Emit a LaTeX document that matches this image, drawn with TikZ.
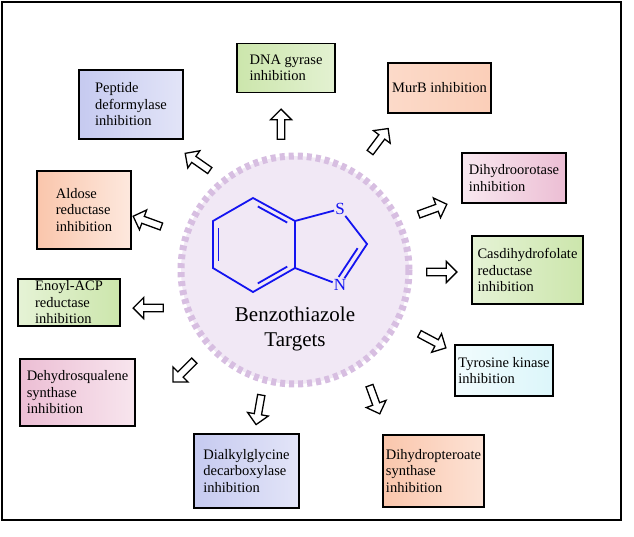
\documentclass[tikz,border=0pt]{standalone}
\usepackage{fontspec}
\setmainfont{Liberation Serif}
\usetikzlibrary{shapes.arrows,calc}
\definecolor{tgreen}{RGB}{204,230,172}
\definecolor{tpeach}{RGB}{250,198,172}
\definecolor{tblue}{RGB}{198,202,240}
\definecolor{tpink}{RGB}{236,190,212}
\definecolor{tcyan}{RGB}{220,246,250}
\definecolor{tlilac}{RGB}{215,190,225}
\definecolor{tmol}{RGB}{20,20,240}
\begin{document}
\begin{tikzpicture}[%
    x=1pt,y=-1pt,
    target/.style={%
      draw,
      line width=1.5pt,
      inner sep=0,
      align=left,
      font=\fontsize{14.5}{16.5}\selectfont},
    pointer/.style={%
      single arrow,
      draw,
      line width=1.3pt,
      fill=white,
      minimum height=30pt,
      minimum width=21pt,
      single arrow head extend=4pt,
      inner sep=1.5pt}
    ]
  \useasboundingbox (0,0) rectangle (634,536);
  \draw[line width=1.4pt] (2,2) rectangle (621,520);
  % central circle
  \fill[tlilac!35] (295,270) circle (114);
  \draw[tlilac, line width=7pt, dash pattern=on 5pt off 4pt] (295,270) circle (114);
  % molecule
  \coordinate (a1) at (253,198);
  \coordinate (a2) at (295,221);
  \coordinate (a3) at (295,268);
  \coordinate (a4) at (253,292);
  \coordinate (a5) at (213,268);
  \coordinate (a6) at (213,221);
  \coordinate (c2) at (367,244);
  \node[tmol, font=\fontsize{17}{17}\selectfont, inner sep=1pt] (s) at (340,209) {S};
  \node[tmol, font=\fontsize{17}{17}\selectfont, inner sep=1pt] (n) at (340,285) {N};
  \begin{scope}[tmol, line width=1.8pt]
    \draw (a1) -- (a2) -- (a3) -- (a4) -- (a5) -- (a6) -- cycle;
    \draw ($(a1)!0.15!(a2)+(-1.5,5)$) -- ($(a1)!0.85!(a2)+(-1.5,5)$);
    \draw ($(a3)!0.15!(a4)+(-1.5,-5)$) -- ($(a3)!0.85!(a4)+(-1.5,-5)$);
    \draw ($(a5)!0.15!(a6)+(5.5,0)$) -- ($(a5)!0.85!(a6)+(5.5,0)$);
    \draw (a2) -- (s) -- (c2) -- (n) -- (a3);
    \draw ($(c2)!0.2!(n)+(-4,-4)$) -- ($(c2)!0.9!(n)+(-4,-4)$);
  \end{scope}
  \node[font=\fontsize{21}{25}\selectfont, align=center] (title) at (295,329) {Benzothiazole\\Targets};
  % target boxes
  \node[target, left color=tgreen, right color=tgreen!55, minimum width=98pt, minimum height=49pt] (gyr) at (286,68) {DNA gyrase\\inhibition};
  \node[target, left color=tpeach!65, right color=tpeach!85, minimum width=103pt, minimum height=50pt] (murb) at (439.5,88) {MurB inhibition};
  \node[target, left color=tblue, right color=tblue!50, minimum width=104pt, minimum height=69pt] (pdf) at (131,104.5) {Peptide\\deformylase\\ inhibition};
  \node[target, left color=tpink!35, right color=tpink, minimum width=104pt, minimum height=50pt] (dho) at (514,178) {Dihydroorotase\\inhibition};
  \node[target, left color=tpeach, right color=tpeach!40, minimum width=94pt, minimum height=78pt] (ald) at (84,210) {Aldose\\reductase\\inhibition};
  \node[target, left color=tgreen!50, right color=tgreen, minimum width=111pt, minimum height=68pt] (cdf) at (527.5,270) {Casdihydrofolate\\reductase\\inhibition};
  \node[target, left color=tgreen!50, right color=tgreen, minimum width=102pt, minimum height=47pt] (eacp) at (69,302.5) {Enoyl-ACP\\reductase\\inhibition};
  \node[target, left color=tcyan!40, right color=tcyan, minimum width=98pt, minimum height=51pt] (tyr) at (504,370.5) {Tyrosine kinase\\inhibition};
  \node[target, left color=tpink, right color=tpink!40, minimum width=115pt, minimum height=67pt] (dsq) at (77.5,392.5) {Dehydrosqualene\\synthase\\inhibition};
  \node[target, left color=tblue, right color=tblue!50, minimum width=105pt, minimum height=74pt] (dkg) at (246.5,471) {Dialkylglycine\\decarboxylase\\inhibition};
  \node[target, left color=tpeach, right color=tpeach!50, minimum width=101pt, minimum height=72pt] (dhp) at (433.5,471) {Dihydropteroate\\synthase\\inhibition};
  % pointers
  \foreach \name/\x/\y/\ang in {p1/281/126/90, p2/378/142/53, p3/431/210/20, p4/440/272/0,
      p5/431/340/-28, p6/374/398/-70, p7/259/408/-100, p8/185/370/-135,
      p9/150/308/180, p10/149/222/160, p11/199/163/145}
    \node[pointer, rotate=\ang] (\name) at (\x,\y) {};
\end{tikzpicture}
\end{document}
